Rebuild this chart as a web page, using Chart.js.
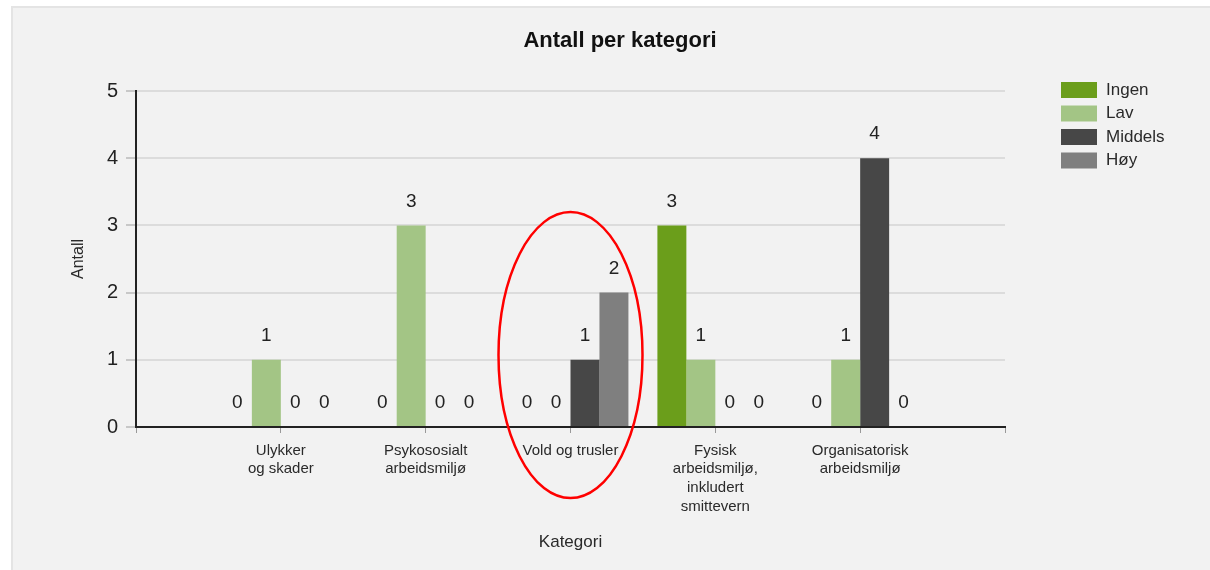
<!DOCTYPE html>
<html>
<head>
<meta charset="utf-8">
<script src="https://cdn.jsdelivr.net/npm/chart.js@4"></script>
<style>
  html, body { margin: 0; padding: 0; background: #fff; }
  #chart { display: block; }
</style>
</head>
<body>
<canvas id="chart" width="1210" height="570"></canvas>
<script>
const FONT = "'Liberation Sans', Arial, sans-serif";

// data
const categories = [
  ["Ulykker", "og skader"],
  ["Psykososialt", "arbeidsmiljø"],
  "Vold og trusler",
  ["Fysisk", "arbeidsmiljø,", "inkludert", "smittevern"],
  ["Organisatorisk", "arbeidsmiljø"],
];
const ingen = [0, 0, 0, 3, 0];
const lav = [1, 3, 0, 1, 1];
const middels = [0, 0, 1, 0, 4];
const hoy = [0, 0, 2, 0, 0];
const yTicks = [0, 1, 2, 3, 4, 5];

// empty slot at each end of the axis
const pad = (arr) => [null, ...arr, null];

const bgPlugin = {
  id: "bgPlugin",
  beforeDraw: (chart) => {
    const ctx = chart.ctx;
    ctx.save();
    ctx.fillStyle = "#ffffff";
    ctx.fillRect(0, 0, chart.width, chart.height);
    ctx.fillStyle = "#e4e4e4";
    ctx.fillRect(11, 6, chart.width - 11, chart.height - 6);
    ctx.fillStyle = "#f2f2f2";
    ctx.fillRect(13, 8, chart.width - 13, chart.height - 8);
    ctx.restore();
  },
};

// titel + legend tegnes selv
const headerPlugin = {
  id: "headerPlugin",
  afterDraw: (chart) => {
    const ctx = chart.ctx;
    ctx.save();
    ctx.fillStyle = "#111";
    ctx.font = "bold 22px " + FONT;
    ctx.textAlign = "center";
    ctx.textBaseline = "middle";
    ctx.fillText("Antall per kategori", 620, 41);

    ctx.font = "17px " + FONT;
    ctx.textAlign = "left";
    chart.data.datasets.forEach((ds, i) => {
      const y = 82 + i * 23.5;
      ctx.fillStyle = ds.backgroundColor;
      ctx.fillRect(1061, y, 36, 16);
      ctx.fillStyle = "#2a2a2a";
      ctx.fillText(ds.label, 1106, y + 8);
    });
    ctx.restore();
  },
};

const valueLabelPlugin = {
  id: "valueLabelPlugin",
  afterDatasetsDraw: (chart) => {
    const ctx = chart.ctx;
    ctx.save();
    ctx.fillStyle = "#222";
    ctx.font = "19px " + FONT;
    ctx.textAlign = "center";
    ctx.textBaseline = "middle";
    chart.data.datasets.forEach((ds, i) => {
      const meta = chart.getDatasetMeta(i);
      meta.data.forEach((bar, j) => {
        const v = ds.data[j];
        if (v === null) return;
        ctx.fillText(String(v), bar.x, bar.y - 24);
      });
    });
    ctx.restore();
  },
};

// rød ring rundt "Vold og trusler"
const circlePlugin = {
  id: "circlePlugin",
  afterDraw: (chart) => {
    const ctx = chart.ctx;
    const cx = chart.scales.x.getPixelForValue(3);
    const cy = chart.scales.y.getPixelForValue(1.07);
    ctx.save();
    ctx.strokeStyle = "#ff0000";
    ctx.lineWidth = 2.5;
    ctx.beginPath();
    ctx.ellipse(cx, cy, 72, 143, 0, 0, Math.PI * 2);
    ctx.stroke();
    ctx.restore();
  },
};

new Chart(document.getElementById("chart"), {
  type: "bar",
  data: {
    labels: ["", ...categories, ""],
    datasets: [
      { label: "Ingen", data: pad(ingen), backgroundColor: "#6b9e1b" },
      { label: "Lav", data: pad(lav), backgroundColor: "#a3c585" },
      { label: "Middels", data: pad(middels), backgroundColor: "#474747" },
      { label: "Høy", data: pad(hoy), backgroundColor: "#7f7f7f" },
    ],
  },
  options: {
    responsive: false,
    animation: false,
    layout: { padding: { top: 91, right: 205, bottom: 0, left: 0 } },
    datasets: { bar: { categoryPercentage: 0.8, barPercentage: 1.0 } },
    scales: {
      x: {
        offset: false,
        afterFit: (scale) => { scale.height = 143; },
        grid: {
          offset: false,
          drawOnChartArea: false,
          drawTicks: true,
          tickLength: 6,
          tickColor: "#999",
        },
        border: { color: "#222", width: 2 },
        ticks: {
          autoSkip: false,
          maxRotation: 0,
          padding: 8,
          color: "#2a2a2a",
          font: { family: FONT, size: 15, lineHeight: 1.25 },
        },
        title: {
          display: true,
          text: "Kategori",
          color: "#2a2a2a",
          font: { family: FONT, size: 17 },
          padding: { top: 0, bottom: 17 },
        },
      },
      y: {
        min: 0,
        max: 5,
        afterFit: (scale) => { scale.width = 136; },
        afterBuildTicks: (scale) => { scale.ticks = yTicks.map((v) => ({ value: v })); },
        grid: {
          color: "#dcdcdc",
          lineWidth: 2,
          tickLength: 10,
          tickColor: "#c8c8c8",
        },
        border: { color: "#222", width: 2 },
        ticks: {
          padding: 8,
          color: "#222",
          font: { family: FONT, size: 20 },
        },
        title: {
          display: true,
          text: "Antall",
          color: "#2a2a2a",
          font: { family: FONT, size: 16 },
          padding: { top: 69, bottom: 0 },
        },
      },
    },
    plugins: {
      legend: { display: false },
      title: { display: false },
      tooltip: { enabled: false },
    },
  },
  plugins: [bgPlugin, headerPlugin, valueLabelPlugin, circlePlugin],
});
</script>
</body>
</html>
